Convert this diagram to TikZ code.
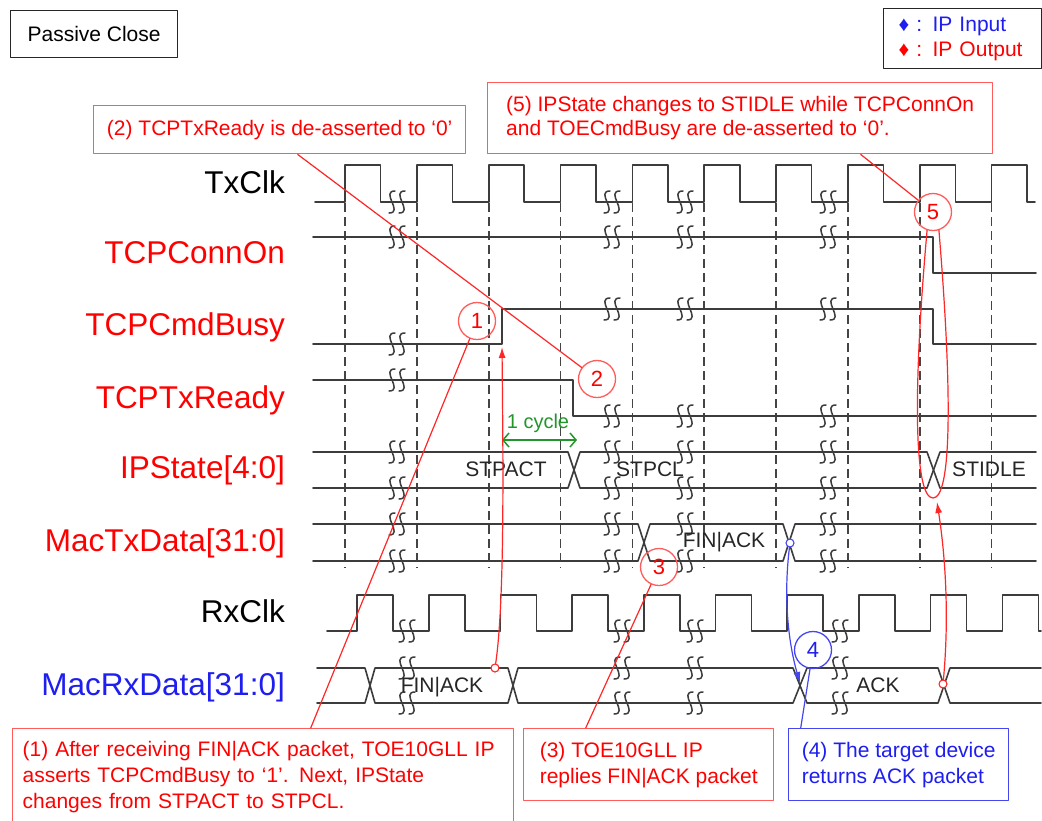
\documentclass[tikz,border=0pt]{standalone}
\usepackage{fontspec}
\setmainfont{Liberation Sans}
\usetikzlibrary{arrows.meta}

\definecolor{wave}{HTML}{3C3C3C}
\definecolor{tick}{HTML}{444444}
\definecolor{ored}{HTML}{FF0000}
\definecolor{pred}{HTML}{FF5C5C}
\definecolor{iblue}{HTML}{1E1EF0}
\definecolor{pblue}{HTML}{4646F0}
\definecolor{cgreen}{HTML}{23962B}

% break mark on a waveform
\newcommand{\wavebreak}[2]{%
  \begin{scope}[shift={(#1,#2)}]
    \draw[wave, line width=1.5pt] (-2,-11) .. controls (-17,-11) and (7,11) .. (-8,11);
    \draw[wave, line width=1.5pt] (8,-11) .. controls (-7,-11) and (17,11) .. (2,11);
  \end{scope}}

\begin{document}
\begin{tikzpicture}[x=1pt, y=-1pt, line cap=round, line join=round,
  sig/.style={draw=wave, line width=1.6pt},
  tickline/.style={draw=tick, line width=1.6pt, dash pattern=on 9pt off 5pt, line cap=butt},
  lbl/.style={anchor=base east, inner sep=0pt, font=\fontsize{31.5}{34}\selectfont},
  bustxt/.style={anchor=base, inner sep=0pt, text=black!85, font=\fontsize{21}{24}\selectfont},
  note/.style={draw=pred, line width=1.4pt, anchor=north west, align=left, text=ored,
    inner sep=0pt, font=\fontsize{21}{26}\selectfont},
  callout/.style={circle, draw=pred, line width=1.3pt, minimum size=37pt, inner sep=0pt,
    text=ored, font=\fontsize{22}{22}\selectfont},
  cline/.style={draw=ored!85, line width=1.2pt},
  tail/.style={circle, draw=ored!85, line width=1.1pt, minimum size=8pt, inner sep=0pt, fill=white}]

  \fill[white] (0,0) rectangle (1042,820);
  \useasboundingbox (0,0) rectangle (1042,820);

  % title and legend
  \node[draw=black!85, line width=1.2pt, anchor=north west, minimum width=167, minimum height=47,
    font=\fontsize{21}{24}\selectfont] (title) at (10,10) {Passive Close};
  \node[draw=black!85, line width=1.2pt, anchor=north west, align=left, inner xsep=15pt,
    text width=128pt, minimum height=60, font=\fontsize{21}{25}\selectfont] (legend) at (883,8)
    {\textcolor{iblue}{♦ : IP Input}\\\textcolor{ored}{♦ : IP Output}};

  % signal names
  \node[lbl] (ltx) at (285,193) {TxClk};
  \node[lbl, text=ored] (lconn) at (285,263) {TCPConnOn};
  \node[lbl, text=ored] (lbusy) at (285,335) {TCPCmdBusy};
  \node[lbl, text=ored] (lrdy) at (285,408) {TCPTxReady};
  \node[lbl, text=ored] (lstate) at (285,478) {IPState[4:0]};
  \node[lbl, text=ored] (ltxd) at (285,551) {MacTxData[31:0]};
  \node[lbl] (lrx) at (285,622) {RxClk};
  \node[lbl, text=iblue] (lrxd) at (285,695) {MacRxData[31:0]};

  % clock edges
  \foreach \i in {0,...,9}
    \draw[tickline] ({345+71.85*\i},203) -- ({345+71.85*\i},568);

  % TxClk
  \draw[sig] (315,202) \foreach \i in {0,...,9}{ -- ({345+71.85*\i},202) -- ++(0,-37) -- ++(35.5,0) -- ++(0,37) } -- (1035,202);
  % TCPConnOn, TCPCmdBusy, TCPTxReady
  \draw[sig] (313,237) -- (933,237) -- (933,273) -- (1036,273);
  \draw[sig] (313,344) -- (502,344) -- (502,309) -- (933,309) -- (933,344) -- (1036,344);
  \draw[sig] (313,380) -- (573,380) -- (573,416) -- (1036,416);
  % IPState
  \draw[sig] (313,452) -- (568,452) -- (580,488) -- (927,488) -- (940,452) -- (1036,452);
  \draw[sig] (313,488) -- (568,488) -- (580,452) -- (927,452) -- (940,488) -- (1036,488);
  % MacTxData
  \draw[sig] (313,524) -- (638,524) -- (650,561) -- (783,561) -- (795,524) -- (1036,524);
  \draw[sig] (313,561) -- (638,561) -- (650,524) -- (783,524) -- (795,561) -- (1036,561);
  % RxClk
  \draw[sig] (327,631) \foreach \i in {0,...,9}{ -- ({357+71.7*\i},631) -- ++(0,-36) -- ++(36,0) -- ++(0,36) } -- (1041,631);
  % MacRxData
  \draw[sig] (317,668) -- (365,668) -- (375,703) -- (508,703) -- (518,668) -- (793,668) -- (807,703)
    -- (938,703) -- (950,668) -- (1041,668);
  \draw[sig] (317,703) -- (365,703) -- (375,668) -- (508,668) -- (518,703) -- (793,703) -- (807,668)
    -- (938,668) -- (950,703) -- (1041,703);

  % breaks
  \foreach \x in {397,612,685,828}{
    \wavebreak{\x}{237}
    \wavebreak{\x}{452}
    \wavebreak{\x}{488}
    \wavebreak{\x}{524}
    \wavebreak{\x}{561}
  }
  \foreach \x/\ya/\yb in {397/202/344, 612/202/309, 685/202/309, 828/202/309}{
    \wavebreak{\x}{\ya}
    \wavebreak{\x}{\yb}
  }
  \wavebreak{397}{380}
  \foreach \x in {612,685,828} \wavebreak{\x}{416};
  \foreach \x in {407,622,695,840}{
    \wavebreak{\x}{631}
    \wavebreak{\x}{668}
    \wavebreak{\x}{703}
  }

  % bus values
  \node[bustxt] (vpact) at (506,476) {STPACT};
  \node[bustxt] (vpcl) at (650,476) {STPCL};
  \node[bustxt] (vidle) at (989,476) {STIDLE};
  \node[bustxt] (vtxfin) at (724,547) {FIN|ACK};
  \node[bustxt] (vrxfin) at (442,692) {FIN|ACK};
  \node[bustxt] (vrxack) at (878,692) {ACK};

  % one cycle
  \node[anchor=base, inner sep=0pt, text=cgreen, font=\fontsize{20}{22}\selectfont] (cyc) at (538,428) {1 cycle};
  \coordinate (cya) at (502,440);
  \coordinate (cyb) at (577,440);
  \draw[cgreen, line width=1.5pt, {Straight Barb[length=6pt,width=14pt]}-{Straight Barb[length=6pt,width=14pt]}] (cya) -- (cyb);

  % notes
  \node[note, minimum width=372, minimum height=48, font=\fontsize{21}{23.5}\selectfont] (n2) at (93,105)
    {(2) TCPTxReady is de-asserted to ‘0’};
  \node[note, minimum width=505, minimum height=71, font=\fontsize{21}{23.5}\selectfont] (n5) at (487,82)
    {(5) IPState changes to STIDLE while TCPConnOn\\and TOECmdBusy are de-asserted to ‘0’.};
  \node[note, inner xsep=10pt, text width=481pt, minimum height=97] (n1) at (12,728)
    {(1) After receiving FIN|ACK packet, TOE10GLL IP\\asserts TCPCmdBusy to ‘1’. Next, IPState\\changes from STPACT to STPCL.};
  \node[note, minimum width=250, minimum height=72] (n3) at (523,728)
    {(3) TOE10GLL IP\\replies FIN|ACK packet};
  \node[note, draw=pblue, text=iblue, minimum width=220, minimum height=72] (n4) at (788,728)
    {(4) The target device\\returns ACK packet};

  % callouts
  \node[callout] (c1) at (477,321) {1};
  \node[callout] (c2) at (597,379) {2};
  \node[callout] (c3) at (659,567) {3};
  \node[callout, draw=pblue, text=iblue] (c4) at (813,650) {4};
  \node[callout] (c5) at (933,212) {5};

  \draw[cline] (c1) -- ([xshift=47.5pt]n1.north);
  \draw[cline] (c2) -- ([xshift=18pt]n2.south);
  \draw[cline] (c3) -- ([xshift=-63pt]n3.north);
  \draw[draw=pblue, line width=1.2pt] (c4) -- ([xshift=-98pt]n4.north);
  \draw[cline] (c5) -- ([xshift=120.5pt]n5.south);
  \draw[cline] (c5.252) .. controls (912,400) and (915,498) .. (933,498) .. controls (951,498) and (953,400) .. (c5.288);

  % arrows
  \node[tail] (t1) at (495,668) {};
  \coordinate (a1) at (502,347);
  \draw[cline, -{Latex[length=11pt,width=7pt]}] (t1) .. controls (505,600) and (503,450) .. (a1);
  \node[tail, draw=pblue] (t4) at (790,543) {};
  \coordinate (a4) at (800,683);
  \draw[draw=pblue, line width=1.2pt, -{Latex[length=11pt,width=7pt]}] (t4) .. controls (783,600) and (789,645) .. (a4);
  \node[tail] (t5) at (943,684) {};
  \coordinate (a5) at (937,502);
  \draw[cline, -{Latex[length=11pt,width=7pt]}] (t5) .. controls (949,620) and (946,560) .. (a5);
\end{tikzpicture}
\end{document}
